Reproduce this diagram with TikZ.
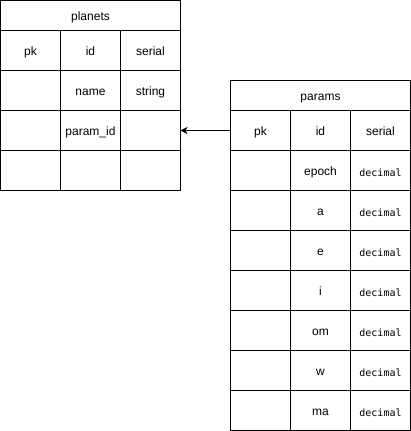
\documentclass[tikz,border=0pt]{standalone}
\usepackage{fontspec}
\setmainfont{Liberation Sans}
\newfontfamily\codefont{DejaVu Sans Mono}
\usetikzlibrary{arrows.meta}

\tikzset{
  tablecell/.style={draw,rectangle,line width=1pt,inner sep=0pt,outer sep=0pt,minimum width=60pt,minimum height=40pt,anchor=north west,font=\fontsize{12}{14}\selectfont,text height=11pt,text depth=1pt},
  tabletitle/.style={tablecell,minimum width=180pt,minimum height=30pt},
  codetext/.style={font=\codefont\fontsize{10}{12}\selectfont,text height=12.5pt,text depth=0.5pt}
}

\begin{document}
\begin{tikzpicture}[x=1pt,y=-1pt]
  \useasboundingbox (0,0) rectangle (411,431);
  % planets table
  \node[tabletitle] (planets) at (0.5,0.5) {planets};
  \node[tablecell] (planetsKeyA) at (0.5,30.5) {pk};
  \node[tablecell] (planetsNameA) at (60.5,30.5) {id};
  \node[tablecell] (planetsTypeA) at (120.5,30.5) {serial};
  \node[tablecell] (planetsKeyB) at (0.5,70.5) {};
  \node[tablecell] (planetsNameB) at (60.5,70.5) {name};
  \node[tablecell] (planetsTypeB) at (120.5,70.5) {string};
  \node[tablecell] (planetsKeyC) at (0.5,110.5) {};
  \node[tablecell] (planetsNameC) at (60.5,110.5) {param\_id};
  \node[tablecell] (planetsTypeC) at (120.5,110.5) {};
  \node[tablecell] (planetsKeyD) at (0.5,150.5) {};
  \node[tablecell] (planetsNameD) at (60.5,150.5) {};
  \node[tablecell] (planetsTypeD) at (120.5,150.5) {};

  % params table
  \node[tabletitle] (params) at (230.5,80.5) {params};
  \node[tablecell] (paramsKey) at (230.5,110.5) {pk};
  \node[tablecell] (paramsName) at (290.5,110.5) {id};
  \node[tablecell] (paramsType) at (350.5,110.5) {serial};
  \foreach \field [count=\n] in {epoch,a,e,i,om,w,ma}{
    \node[tablecell] (paramsKey\n) at (230.5,110.5+40*\n) {};
    \node[tablecell] (paramsName\n) at (290.5,110.5+40*\n) {\field};
    \node[tablecell,codetext] (paramsType\n) at (350.5,110.5+40*\n) {decimal};
  }

  % foreign key
  \draw[line width=1pt,-{Stealth[length=7pt,width=7pt,inset=2pt]}] (paramsKey.west) -- (planetsTypeC.east);
\end{tikzpicture}
\end{document}
